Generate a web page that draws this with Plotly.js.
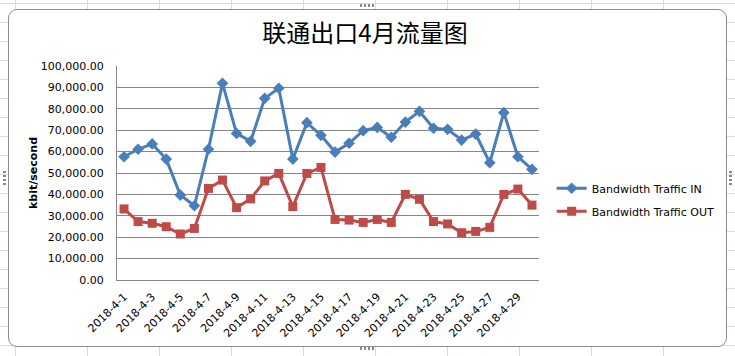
<!DOCTYPE html>
<html>
<head>
<meta charset="utf-8">
<script src="https://cdn.plot.ly/plotly-3.0.1.min.js"></script>
<style>
  html, body { margin: 0; padding: 0; }
  body {
    width: 735px; height: 356px; position: relative; overflow: hidden;
    background-color: #ffffff;
    background-image:
      repeating-linear-gradient(to right, transparent 0px, transparent 15px, #d4dce8 15px, #d4dce8 16px, transparent 16px, transparent 72px),
      repeating-linear-gradient(to bottom, transparent 0px, transparent 3px, #d4dce8 3px, #d4dce8 4px, transparent 4px, transparent 19px);
  }
  #frame {
    position: absolute; left: 8px; top: 9px; width: 717px; height: 336px;
    background: #ffffff; border: 1px solid #8c8c8c; border-radius: 9px;
  }
  .hh { position: absolute; width: 14px; height: 3px;
        background-image: repeating-linear-gradient(to right, #8a8a8a 0px, #8a8a8a 2px, transparent 2px, transparent 4px); }
  .hv { position: absolute; width: 3px; height: 14px;
        background-image: repeating-linear-gradient(to bottom, #8a8a8a 0px, #8a8a8a 2px, transparent 2px, transparent 4px); }
  #chart { position: absolute; left: 0; top: 0; width: 735px; height: 356px; }
</style>
</head>
<body>
<div id="frame"></div>
<div class="hh" style="left:360px; top:4px;"></div>
<div class="hh" style="left:360px; top:347px;"></div>
<div class="hv" style="left:3px; top:171px;"></div>
<div class="hv" style="left:729px; top:171px;"></div>
<div id="chart"></div>
<script>
const categories = [
  "2018-4-1","2018-4-2","2018-4-3","2018-4-4","2018-4-5","2018-4-6","2018-4-7","2018-4-8","2018-4-9","2018-4-10",
  "2018-4-11","2018-4-12","2018-4-13","2018-4-14","2018-4-15","2018-4-16","2018-4-17","2018-4-18","2018-4-19","2018-4-20",
  "2018-4-21","2018-4-22","2018-4-23","2018-4-24","2018-4-25","2018-4-26","2018-4-27","2018-4-28","2018-4-29","2018-4-30"
];
const trafficIn = [
  57600, 61100, 63600, 56500, 39700, 34700, 61100, 91900, 68500, 64800,
  84900, 89600, 56500, 73500, 67600, 59800, 63900, 69800, 71300, 66700,
  73800, 78800, 70900, 70400, 65400, 68200, 54800, 78200, 57600, 51700
];
const trafficOut = [
  33200, 27300, 26500, 24900, 21500, 24100, 42800, 46700, 33800, 37900,
  46300, 49800, 34300, 49800, 52600, 28300, 28000, 26900, 28300, 26900,
  40000, 37700, 27300, 26200, 22100, 22700, 24600, 40000, 42500, 35000
];
const tickLabels = categories.filter((c, i) => i % 2 === 0);
const yTicks = [0,10000,20000,30000,40000,50000,60000,70000,80000,90000,100000];
const seriesNames = ["Bandwidth Traffic IN", "Bandwidth Traffic OUT"];
const titleText = "联通出口4月流量图";
const yTitle = "kbit/second";

const baseFont = "DejaVu Sans, Verdana, sans-serif";

const traces = [
  {
    x: categories, y: trafficIn, name: seriesNames[0], type: "scatter", mode: "lines+markers",
    legendgroup: "in",
    line: { color: "#4A7EBB", width: 3 },
    marker: { symbol: "diamond", size: 9, color: "#4A7EBB" }
  },
  {
    x: categories, y: trafficOut, name: seriesNames[1], type: "scatter", mode: "lines+markers",
    legendgroup: "out",
    line: { color: "#BE4B48", width: 3 },
    marker: { symbol: "square", size: 9, color: "#BE4B48" }
  }
];

const layout = {
  width: 735, height: 356,
  margin: { l: 117, r: 196, t: 66, b: 76 },
  paper_bgcolor: "rgba(0,0,0,0)",
  plot_bgcolor: "rgba(0,0,0,0)",
  font: { family: baseFont, size: 11, color: "#000000" },
  title: {
    text: titleText,
    font: { family: "Noto Sans CJK SC, sans-serif", size: 24, color: "#000000", weight: "normal" },
    x: 0.4966, xref: "container", xanchor: "center",
    y: 0.905, yref: "container", yanchor: "middle"
  },
  showlegend: true,
  legend: {
    x: 1.03, xanchor: "left", y: 0.375, yanchor: "middle",
    traceorder: "grouped", tracegroupgap: 4,
    font: { family: baseFont, size: 11, color: "#000000" },
    bgcolor: "rgba(0,0,0,0)", itemwidth: 30
  },
  xaxis: {
    type: "category",
    categoryorder: "array", categoryarray: categories,
    range: [-0.5, 29.5],
    tickmode: "array", tickvals: tickLabels, ticktext: tickLabels,
    tickangle: -45, ticklabelstandoff: 5,
    showgrid: false, zeroline: false,
    showline: true, linecolor: "#868686", linewidth: 1,
    ticks: "", tickfont: { family: baseFont, size: 11, color: "#000000" }
  },
  yaxis: {
    range: [0, 100000],
    tickmode: "array", tickvals: yTicks,
    tickformat: ",.2f",
    showgrid: true, gridcolor: "#868686", gridwidth: 1,
    zeroline: false,
    showline: true, linecolor: "#868686", linewidth: 1,
    ticks: "", ticklabelstandoff: 10,
    tickfont: { family: baseFont, size: 11, color: "#000000" }
  },
  annotations: [
    {
      text: yTitle, xref: "paper", yref: "paper", x: -0.199, y: 0.5,
      xanchor: "center", yanchor: "middle", textangle: -90, showarrow: false,
      font: { family: baseFont, size: 11, color: "#000000", weight: "bold" }
    }
  ]
};

Plotly.newPlot("chart", traces, layout, { displayModeBar: false, staticPlot: true });
</script>
</body>
</html>
